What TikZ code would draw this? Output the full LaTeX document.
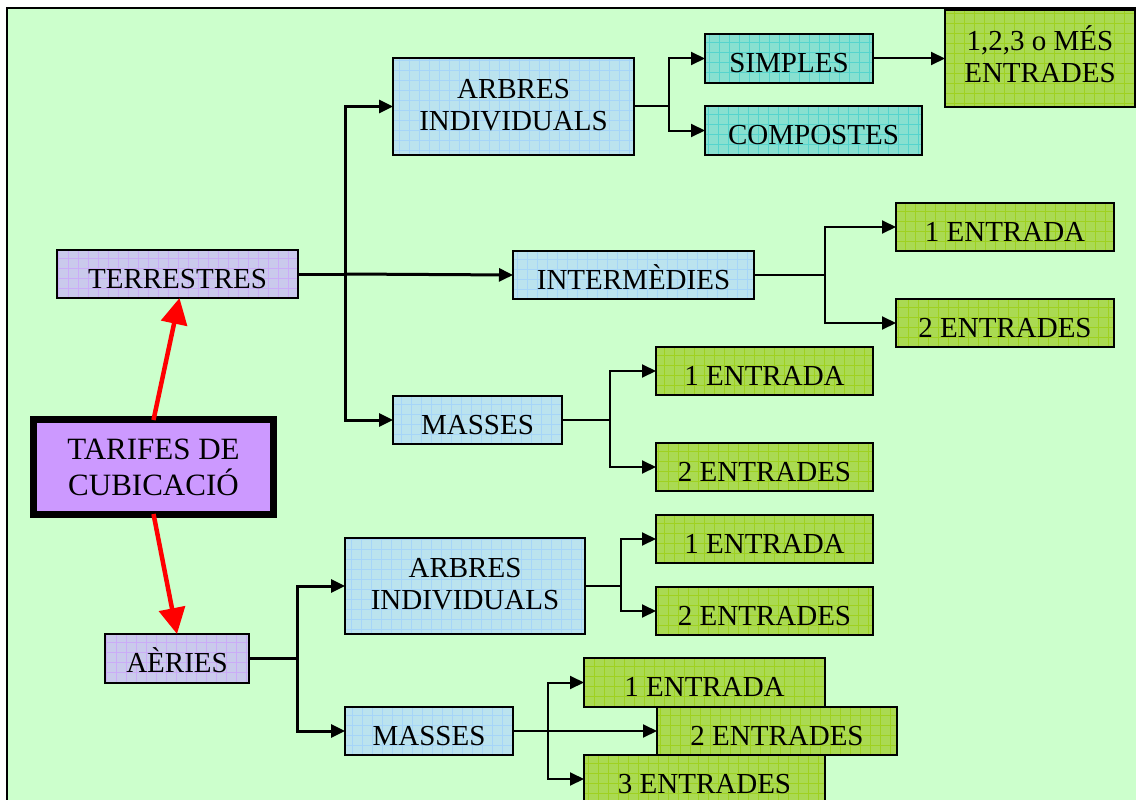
\documentclass[tikz,border=0pt]{standalone}
\usepackage{fontspec}
\setmainfont{Liberation Serif}
\usetikzlibrary{arrows.meta}
\definecolor{bg}{HTML}{CCFFCC}
\definecolor{lav}{HTML}{CACAEC}
\definecolor{lavg}{HTML}{CC99FF}
\definecolor{tarf}{HTML}{CC99FF}
\definecolor{blu}{HTML}{BBE3EE}
\definecolor{blug}{HTML}{99CCFF}
\definecolor{teal1}{HTML}{88E0D0}
\definecolor{tealg}{HTML}{33CCCC}
\definecolor{grn}{HTML}{AADA52}
\definecolor{grng}{HTML}{99CC00}
\newcommand{\dn}[1]{\rule[-#1pt]{0pt}{0pt}}
\tikzset{
  gridbox/.style 2 args={draw=black, line width=1.8pt, fill=#1, inner sep=0pt, outer sep=0pt,
    align=center, font=\fontsize{29}{32}\selectfont,
    path picture={\draw[#2, line width=0.5pt, opacity=0.6] (path picture bounding box.south west) grid[step=10pt] (path picture bounding box.north east);}},
  lavbox/.style={gridbox={lav}{lavg}},
  blubox/.style={gridbox={blu}{blug}},
  tealbox/.style={gridbox={teal1}{tealg}},
  grnbox/.style={gridbox={grn}{grng}},
  oneline/.style={text height=28pt, text depth=0pt},
  conn/.style={draw=black, line width=2pt},
  thickconn/.style={draw=black, line width=3pt},
  arr/.style={-{Triangle[length=14pt,width=13pt]}},
  redarr/.style={draw=red, line width=4.5pt, -{Triangle[length=26pt,width=26pt]}},
}
\begin{document}
\begin{tikzpicture}[x=1pt,y=-1pt]
\useasboundingbox (0,0) rectangle (1136,800);
\clip (0,0) rectangle (1136,800);
\fill[white] (0,0) rectangle (1136,800);
\draw[fill=bg, line width=2pt] (7,8) rectangle (1145,810);

% nodes
\node[lavbox, oneline, minimum width=241pt, minimum height=48pt] (terr) at (177.5,274) {TERRESTRES};
\node[draw=black, line width=7pt, fill=tarf, minimum width=240pt, minimum height=95pt, inner sep=0pt, align=center, font=\fontsize{31}{36}\selectfont] (tar) at (153.5,467) {TARIFES DE\\CUBICACIÓ};
\node[lavbox, oneline, minimum width=144pt, minimum height=49pt] (aer) at (177,658.5) {AÈRIES};

\node[blubox, minimum width=241pt, minimum height=97pt] (arb1) at (513.5,106.5) {ARBRES\\INDIVIDUALS\dn{4}};
\node[tealbox, oneline, minimum width=168pt, minimum height=49pt] (simp) at (789,58.5) {SIMPLES};
\node[tealbox, oneline, minimum width=217pt, minimum height=49pt] (comp) at (813.5,130.5) {COMPOSTES};
\node[grnbox, minimum width=190pt, minimum height=97pt] (mes) at (1040,58.5) {1,2,3 o MÉS\\ENTRADES\dn{8}};

\node[blubox, oneline, minimum width=241pt, minimum height=48pt] (inter) at (633.5,275) {INTERMÈDIES};
\node[grnbox, oneline, minimum width=218pt, minimum height=48pt] (e1a) at (1005,227) {1 ENTRADA};
\node[grnbox, oneline, minimum width=218pt, minimum height=48pt] (e2a) at (1005,323) {2 ENTRADES};

\node[blubox, oneline, minimum width=169pt, minimum height=48pt] (mas1) at (477.5,420) {MASSES};
\node[grnbox, oneline, minimum width=217pt, minimum height=48pt] (e1b) at (764.5,371) {1 ENTRADA};
\node[grnbox, oneline, minimum width=217pt, minimum height=48pt] (e2b) at (764.5,467) {2 ENTRADES};

\node[blubox, minimum width=240pt, minimum height=96pt] (arb2) at (465,586) {ARBRES\\INDIVIDUALS\dn{4}};
\node[grnbox, oneline, minimum width=217pt, minimum height=48pt] (e1c) at (764.5,539) {1 ENTRADA};
\node[grnbox, oneline, minimum width=217pt, minimum height=48pt] (e2c) at (764.5,611) {2 ENTRADES};

\node[blubox, oneline, minimum width=168pt, minimum height=48pt] (mas2) at (429,731) {MASSES};
\node[grnbox, oneline, minimum width=241pt, minimum height=49pt] (e1d) at (704.5,682.5) {1 ENTRADA};
\node[grnbox, oneline, minimum width=241pt, minimum height=48pt] (e3d) at (704.5,779) {3 ENTRADES};
\node[grnbox, oneline, minimum width=240pt, minimum height=48pt] (e2d) at (777,731) {2 ENTRADES};

% junctions
\coordinate (jt) at (345,274);
\coordinate (ja1) at (669,106.5);
\coordinate (ji) at (825,275);
\coordinate (jm1) at (610,420);
\coordinate (jae) at (297,658.5);
\coordinate (ja2) at (621,586);
\coordinate (jm2) at (548,731);

% connectors
\draw[thickconn] (terr.east) -- (jt);
\draw[thickconn, arr] (jt) |- (arb1.west);
\draw[thickconn, arr] (jt) |- (mas1.west);
\draw[thickconn, arr] (jt) -- (inter.west);

\draw[conn] (arb1.east) -- (ja1);
\draw[conn, arr] (ja1) |- (simp.west);
\draw[conn, arr] (ja1) |- (comp.west);
\draw[conn, arr] (simp.east) -- (mes.west);

\draw[conn] (inter.east) -- (ji);
\draw[conn, arr] (ji) |- (e1a.west);
\draw[conn, arr] (ji) |- (e2a.west);

\draw[conn] (mas1.east) -- (jm1);
\draw[conn, arr] (jm1) |- (e1b.west);
\draw[conn, arr] (jm1) |- (e2b.west);

\draw[thickconn] (aer.east) -- (jae);
\draw[thickconn, arr] (jae) |- (arb2.west);
\draw[thickconn, arr] (jae) |- (mas2.west);

\draw[conn] (arb2.east) -- (ja2);
\draw[conn, arr] (ja2) |- (e1c.west);
\draw[conn, arr] (ja2) |- (e2c.west);

\draw[conn, arr] (mas2.east) -- (e2d.west);
\draw[conn, arr] (jm2) |- (e1d.west);
\draw[conn, arr] (jm2) |- (e3d.west);

% red arrows
\draw[redarr] ([yshift=-4pt]tar.north) -- ([xshift=2pt]terr.south);
\draw[redarr] ([yshift=4pt]tar.south) -- (aer.north);
\end{tikzpicture}
\end{document}
